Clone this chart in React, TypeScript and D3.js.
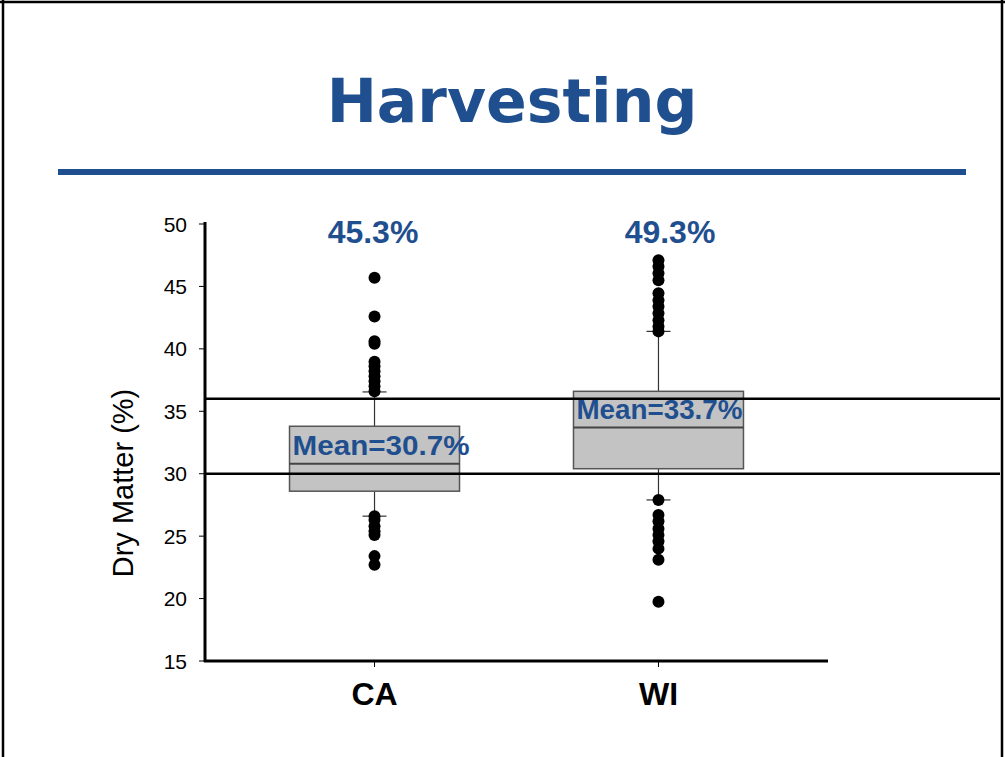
import React from "react";
import * as d3 from "d3";

const categories = ["CA", "WI"];
const q1 = [28.6, 30.4];
const median = [30.8, 33.7];
const q3 = [33.8, 36.6];
const whiskerLow = [26.6, 27.9];
const whiskerHigh = [36.55, 41.4];
const outliersCA = [45.7, 42.6, 40.6, 40.4, 38.97, 38.6, 38.2, 37.8, 37.4, 37.0, 36.6, 26.6, 26.3, 25.8, 25.4, 25.1, 23.4, 22.7];
const outliersWI = [47.1, 46.6, 46.05, 45.5, 44.45, 43.9, 43.4, 42.85, 42.3, 41.8, 41.4, 27.9, 26.7, 26.2, 25.6, 25.1, 24.6, 24.0, 23.1, 19.75];
const maxLabels = ["45.3%", "49.3%"];
const meanLabels = ["Mean=30.7%", "Mean=33.7%"];
const refLines = [36, 30];
const yTicks = [15, 20, 25, 30, 35, 40, 45, 50];

const BLUE = "#1f4f8f";

export default function App() {
  const y = d3.scaleLinear().domain([15, 50]).range([661, 224]);
  const x = d3.scalePoint<string>().domain(categories).range([205, 828]).padding(0.597);
  const outliers = [outliersCA, outliersWI];
  const boxW = 170;
  const capW = 24;
  return (
    <svg width={1005} height={757} style={{ position: "absolute", left: 0, top: 0, background: "#fff" }}
      fontFamily="Arial, 'Liberation Sans', sans-serif">
      {/* frame */}
      <line x1={3} y1={0} x2={3} y2={757} stroke="#000" strokeWidth={2.5} />
      <line x1={0} y1={2} x2={1005} y2={2} stroke="#000" strokeWidth={2.5} />
      <line x1={1002} y1={0} x2={1002} y2={757} stroke="#000" strokeWidth={2.5} />
      {/* title */}
      <text x={512} y={122} textAnchor="middle" fontFamily="'DejaVu Sans', Verdana, sans-serif" fontWeight="bold" fontSize={60} fill={BLUE}>Harvesting</text>
      <line x1={58} y1={172} x2={966} y2={172} stroke={BLUE} strokeWidth={6} />
      {/* y label */}
      <text transform={`translate(133,483) rotate(-90)`} textAnchor="middle" fontSize={29} fill="#000">Dry Matter (%)</text>
      {/* whiskers */}
      {categories.map((c, i) => {
        const cx = x(c)!;
        return (
          <g key={"w" + c} stroke="#333" strokeWidth={1.2}>
            <line x1={cx} x2={cx} y1={y(q3[i])} y2={y(whiskerHigh[i])} />
            <line x1={cx} x2={cx} y1={y(q1[i])} y2={y(whiskerLow[i])} />
            <line x1={cx - capW / 2} x2={cx + capW / 2} y1={y(whiskerHigh[i])} y2={y(whiskerHigh[i])} />
            <line x1={cx - capW / 2} x2={cx + capW / 2} y1={y(whiskerLow[i])} y2={y(whiskerLow[i])} />
          </g>
        );
      })}
      {/* boxes */}
      {categories.map((c, i) => {
        const cx = x(c)!;
        return (
          <g key={"b" + c}>
            <rect x={cx - boxW / 2} y={y(q3[i])} width={boxW} height={y(q1[i]) - y(q3[i])} fill="#c3c3c3" stroke="#555" strokeWidth={1.5} />
            <line x1={cx - boxW / 2} x2={cx + boxW / 2} y1={y(median[i])} y2={y(median[i])} stroke="#444" strokeWidth={2} />
          </g>
        );
      })}
      {/* reference lines */}
      {refLines.map((v) => (
        <line key={"r" + v} x1={205} x2={1000} y1={y(v)} y2={y(v)} stroke="#000" strokeWidth={2.5} />
      ))}
      {/* mean labels */}
      {categories.map((c, i) => (
        <text key={"m" + c} x={x(c)! - boxW / 2 + 3} y={y(median[i]) - 9} fontSize={28} fontWeight="bold" fill={BLUE}
          textLength={i === 0 ? 177 : 166} lengthAdjust="spacingAndGlyphs">{meanLabels[i]}</text>
      ))}
      {/* outliers */}
      {categories.map((c, i) => (
        <g key={"o" + c}>
          {outliers[i].map((v, j) => (
            <circle key={j} cx={x(c)!} cy={y(v)} r={6} fill="#000" />
          ))}
        </g>
      ))}
      {/* max labels */}
      {categories.map((c, i) => (
        <text key={"x" + c} x={i === 0 ? 373 : 670} y={243} textAnchor="middle" fontSize={32} fontWeight="bold" fill={BLUE}>{maxLabels[i]}</text>
      ))}
      {/* axes */}
      <line x1={205} x2={205} y1={222} y2={662} stroke="#000" strokeWidth={3} />
      <line x1={204} x2={828} y1={661} y2={661} stroke="#000" strokeWidth={3} />
      {yTicks.map((t) => (
        <g key={"t" + t}>
          <line x1={199} x2={205} y1={y(t)} y2={y(t)} stroke="#000" strokeWidth={1} />
          <text x={187} y={y(t) + 7.5} textAnchor="end" fontSize={21} fill="#000">{t}</text>
        </g>
      ))}
      {categories.map((c) => (
        <g key={"xt" + c}>
          <line x1={x(c)!} x2={x(c)!} y1={661} y2={667} stroke="#000" strokeWidth={1} />
          <text x={x(c)!} y={705} textAnchor="middle" fontSize={32} fontWeight="bold" fill="#000">{c}</text>
        </g>
      ))}
    </svg>
  );
}
